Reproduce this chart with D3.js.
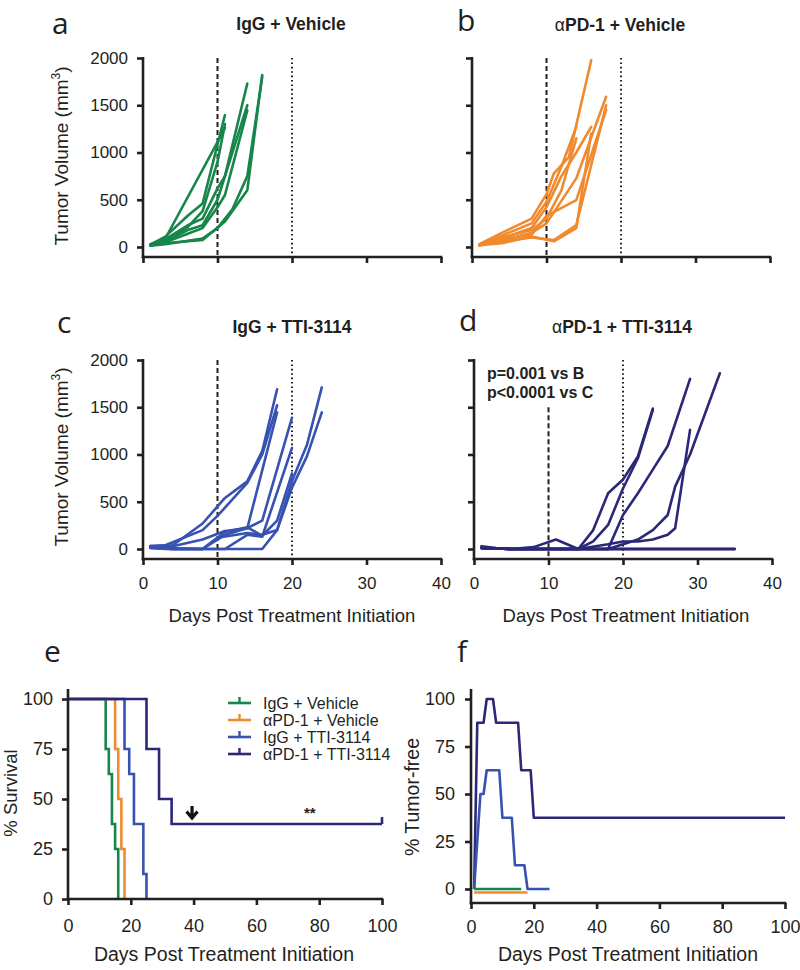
<!DOCTYPE html>
<html><head><meta charset="utf-8">
<script src="https://cdn.jsdelivr.net/npm/d3@7"></script>
<style>body{margin:0;background:#fff} svg{display:block}</style>
</head><body>
<svg id="chart" width="800" height="970"></svg>
<script>
// ---------- DATA ----------
const dayTicks = [0, 10, 20, 30, 40];
const volumeTicks = [0, 500, 1000, 1500, 2000];
const survDayTicks = [0, 20, 40, 60, 80, 100];
const percentTicks = [0, 25, 50, 75, 100];
const groupNames = ["IgG + Vehicle", "αPD-1 + Vehicle", "IgG + TTI-3114", "αPD-1 + TTI-3114"];
const xTitle = "Days Post Treatment Initiation";

// individual tumor growth curves: [day, volume mm3]
const miceIgGVehicle = [
  [[1,30],[3,90],[10,1110],[11,1260]],
  [[1,25],[3,110],[6,330],[8,460],[11,1395]],
  [[1,20],[3,80],[6,230],[8,300],[10,620],[11,750],[14,1730]],
  [[1,20],[3,60],[6,180],[8,230],[10,500],[14,1500]],
  [[1,15],[3,50],[6,140],[8,200],[10,420],[11,550],[14,1445]],
  [[1,20],[3,40],[8,75],[11,270],[14,600],[16,1820]],
  [[1,15],[3,30],[8,90],[10,200],[12,400],[14,750],[16,1800]],
  [[1,25],[3,70],[6,210],[8,380],[10,900],[11,1300]]
];
const miceAPD1Vehicle = [
  [[1,30],[4,150],[8,300],[10,560],[11,780],[13,950],[16,1977]],
  [[1,25],[4,120],[8,250],[10,480],[12,850],[14,1272]],
  [[1,20],[4,90],[8,200],[10,420],[12,750],[14,1000],[16,1272]],
  [[1,20],[4,70],[8,150],[10,250],[14,726],[18,1590]],
  [[1,15],[4,60],[8,100],[11,74],[14,232],[18,1500]],
  [[1,20],[4,80],[8,130],[10,330],[14,497],[18,1450]],
  [[1,25],[4,100],[8,180],[10,300],[12,600],[14,1150]],
  [[1,20],[4,40],[8,110],[11,60],[14,200],[16,1200]]
];
const miceIgGTTI = [
  [[1,30],[4,40],[8,270],[10,450],[11,540],[14,716],[16,1035],[18,1690]],
  [[1,25],[3,40],[8,200],[10,350],[14,700],[16,1000],[18,1520]],
  [[1,10],[4,0],[8,0],[11,150],[14,220],[18,1445]],
  [[1,30],[4,30],[8,100],[11,190],[14,220],[16,300],[20,1390]],
  [[1,20],[4,0],[11,0],[14,150],[16,130],[20,1070]],
  [[1,30],[3,10],[8,0],[10,120],[14,170],[16,150],[18,200],[20,720],[22,1100],[24,1710]],
  [[1,10],[4,0],[16,0],[18,200],[20,650],[22,980],[24,1445]],
  [[1,20],[3,0],[8,0],[11,180],[14,230],[16,140],[18,300],[20,800]]
];
const miceAPD1TTI = [
  [[1,30],[3,10],[5,0],[8,20],[11,100],[14,0],[16,200],[18,590],[20,735],[22,980],[24,1486]],
  [[1,10],[5,0],[14,0],[16,80],[18,255],[20,640],[22,960],[24,1470]],
  [[1,10],[5,0],[18,0],[20,360],[22,590],[24,840],[26,1090],[29,1800]],
  [[1,10],[5,0],[14,0],[18,50],[20,80],[22,80],[24,100],[26,150],[27,220],[29,1260]],
  [[1,10],[5,0],[18,0],[20,50],[22,100],[24,200],[26,360],[27,660],[29,1000],[33,1860]],
  [[1,10],[5,0],[35,0]],
  [[1,10],[5,0],[35,0]],
  [[1,10],[5,0],[35,0]]
];

// Kaplan-Meier survival: [day, % survival]
const survIgGVehicle = [[0,100],[12,75],[13,62.5],[14,37.5],[15,25],[16,0]];
const survAPD1Vehicle = [[0,100],[15,75],[16,50],[17,25],[18,0]];
const survIgGTTI = [[0,100],[18,75],[19.5,62.5],[21,37.5],[24,12.5],[25,0]];
const survAPD1TTI = [[0,100],[25,75],[29,50],[33,37.5],[100,37.5]];

// % tumor-free: [day, %]
const freeIgGVehicle = [[1,0],[16,0]];
const freeAPD1Vehicle = [[1,0],[18,0]];
const freeIgGTTI = [[1,0],[3,50],[4,50],[5,62.5],[9,62.5],[10,37.5],[13,37.5],[14,12.5],[17,12.5],[18,0],[25,0]];
const freeAPD1TTI = [[1,0],[2,87.5],[4,87.5],[5,100],[7,100],[8,87.5],[15,87.5],[16,62.5],[19,62.5],[20,37.5],[100,37.5]];

// ---------- STYLE ----------
const COLORS = ["#16864a", "#f08a2e", "#3752b0", "#2c2878"];
const FONT = "'Liberation Sans', Arial, Helvetica, sans-serif";
const INK = "#231f20";
const AXW = 2.6;

const svg = d3.select("#chart");

function styleAxis(g, fs) {
  g.selectAll(".tick line").attr("stroke", INK).attr("stroke-width", AXW);
  g.selectAll(".tick text").attr("fill", INK).attr("font-family", FONT).attr("font-size", fs);
}

function letter(t, x, y) {
  svg.append("text").attr("x", x).attr("y", y).text(t)
    .attr("font-family", "'Open Sans', 'DejaVu Sans', sans-serif").attr("font-size", 30).attr("fill", INK);
}

function title(t, x, y) {
  const tx = svg.append("text").attr("x", x).attr("y", y).attr("text-anchor", "middle")
    .attr("font-family", FONT).attr("font-size", 17.5).attr("font-weight", "bold").attr("fill", INK);
  if (t.startsWith("α")) {
    tx.append("tspan").attr("font-weight", "normal").text("α");
    tx.append("tspan").text(t.slice(1));
  } else tx.text(t);
}

function tumorPanel(o) {
  const g = svg.append("g");
  const x = d3.scaleLinear().domain([0, 40]).range([o.x0, o.x0 + 298]);
  const y = d3.scaleLinear().domain([0, 2000]).range([o.y0, o.y0 - 189]);
  g.append("line").attr("x1", x(10)).attr("x2", x(10)).attr("y1", y(o.dashTop)).attr("y2", o.axisY)
    .attr("stroke", INK).attr("stroke-width", 2).attr("stroke-dasharray", "5,3");
  g.append("line").attr("x1", x(20)).attr("x2", x(20)).attr("y1", y(2000)).attr("y2", o.axisY)
    .attr("stroke", INK).attr("stroke-width", 2).attr("stroke-dasharray", "1.6,2.8");
  const line = d3.line().x(d => x(d[0])).y(d => y(d[1]));
  g.selectAll("path.m").data(o.mice).join("path").attr("class", "m")
    .attr("d", line).attr("fill", "none").attr("stroke", o.color)
    .attr("stroke-width", 2.6).attr("stroke-linejoin", "round").attr("stroke-linecap", "round");
  const ya = d3.axisLeft(y).tickValues(volumeTicks).tickSize(6).tickSizeOuter(0).tickPadding(9)
    .tickFormat(o.yLabels ? d3.format("d") : () => "");
  const yg = g.append("g").attr("transform", `translate(${o.x0},0)`).call(ya);
  yg.select(".domain").remove();
  styleAxis(yg, 17);
  g.append("line").attr("x1", o.x0).attr("x2", o.x0).attr("y1", y(2000) - 1).attr("y2", o.axisY + 1.3)
    .attr("stroke", INK).attr("stroke-width", AXW);
  const xa = d3.axisBottom(x).tickValues(dayTicks).tickSize(6).tickSizeOuter(0).tickPadding(12)
    .tickFormat(o.xLabels ? d3.format("d") : () => "");
  const xg = g.append("g").attr("transform", `translate(0,${o.axisY})`).call(xa);
  xg.select(".domain").remove();
  styleAxis(xg, 17);
  g.append("line").attr("x1", o.x0 - 1.3).attr("x2", x(40) + 1.3).attr("y1", o.axisY).attr("y2", o.axisY)
    .attr("stroke", INK).attr("stroke-width", AXW);
}

function yTitleVolume(cx, cy) {
  const t = svg.append("text").attr("transform", `translate(${cx},${cy}) rotate(-90)`)
    .attr("text-anchor", "middle").attr("font-family", FONT).attr("font-size", 19).attr("fill", INK);
  t.append("tspan").text("Tumor Volume (mm");
  t.append("tspan").attr("font-size", 12).attr("dy", -8).text("3");
  t.append("tspan").attr("dy", 8).text(")");
}

function plainText(t, x, y, fs, rot) {
  svg.append("text").attr("transform", `translate(${x},${y})` + (rot ? " rotate(-90)" : ""))
    .attr("text-anchor", "middle").attr("font-family", FONT).attr("font-size", fs).attr("fill", INK).text(t);
}

// ---------- PANELS a-d ----------
tumorPanel({x0: 143, y0: 247, axisY: 257, mice: miceIgGVehicle, color: COLORS[0], yLabels: true, xLabels: false, dashTop: 2000});
tumorPanel({x0: 472, y0: 247, axisY: 257, mice: miceAPD1Vehicle, color: COLORS[1], yLabels: false, xLabels: false, dashTop: 2000});
tumorPanel({x0: 143, y0: 549, axisY: 559, mice: miceIgGTTI, color: COLORS[2], yLabels: true, xLabels: true, dashTop: 2000});
tumorPanel({x0: 474, y0: 549, axisY: 559, mice: miceAPD1TTI, color: COLORS[3], yLabels: false, xLabels: true, dashTop: 1500});

letter("a", 52, 34); letter("b", 457, 31); letter("c", 57, 333); letter("d", 459, 331);
title(groupNames[0], 291, 30); title(groupNames[1], 620, 31);
title(groupNames[2], 292, 333); title(groupNames[3], 622, 333);
yTitleVolume(68, 156); yTitleVolume(68, 457);
plainText(xTitle, 292, 622, 18.5); plainText(xTitle, 626, 622, 18.5);

svg.append("text").attr("x", 487).attr("y", 379).attr("font-family", FONT).attr("font-size", 16)
  .attr("font-weight", "bold").attr("fill", INK).text("p=0.001 vs B");
svg.append("text").attr("x", 487).attr("y", 398).attr("font-family", FONT).attr("font-size", 16)
  .attr("font-weight", "bold").attr("fill", INK).text("p<0.0001 vs C");

// ---------- PANEL e ----------
(function() {
  const g = svg.append("g");
  const x = d3.scaleLinear().domain([0, 100]).range([68, 382]);
  const y = d3.scaleLinear().domain([0, 100]).range([899, 699]);
  const line = d3.line().x(d => x(d[0])).y(d => y(d[1])).curve(d3.curveStepAfter);
  [survIgGVehicle, survAPD1Vehicle, survIgGTTI, survAPD1TTI].forEach((s, i) => {
    g.append("path").attr("d", line(s)).attr("fill", "none").attr("stroke", COLORS[i]).attr("stroke-width", 2.6);
  });
  const last = survAPD1TTI[survAPD1TTI.length - 1];
  g.append("line").attr("x1", x(last[0])).attr("x2", x(last[0])).attr("y1", y(last[1])).attr("y2", y(last[1]) - 7)
    .attr("stroke", COLORS[3]).attr("stroke-width", 2.6);
  const ya = d3.axisLeft(y).tickValues(percentTicks).tickSize(6).tickSizeOuter(0).tickPadding(9);
  const yg = g.append("g").attr("transform", "translate(68,0)").call(ya);
  yg.select(".domain").remove(); styleAxis(yg, 18);
  g.append("line").attr("x1", 68).attr("x2", 68).attr("y1", 689).attr("y2", 900.3).attr("stroke", INK).attr("stroke-width", AXW);
  const xa = d3.axisBottom(x).tickValues(survDayTicks).tickSize(6).tickSizeOuter(0).tickPadding(14);
  const xg = g.append("g").attr("transform", "translate(0,899)").call(xa);
  xg.select(".domain").remove(); styleAxis(xg, 18);
  g.append("line").attr("x1", 66.7).attr("x2", 383.3).attr("y1", 899).attr("y2", 899).attr("stroke", INK).attr("stroke-width", AXW);
  groupNames.forEach((n, i) => {
    const ly = 703 + i * 17;
    g.append("line").attr("x1", 228).attr("x2", 251).attr("y1", ly).attr("y2", ly).attr("stroke", COLORS[i]).attr("stroke-width", 2.6);
    g.append("line").attr("x1", 239.5).attr("x2", 239.5).attr("y1", ly).attr("y2", ly - 6).attr("stroke", COLORS[i]).attr("stroke-width", 2.4);
    g.append("text").attr("x", 263).attr("y", ly + 5.5).attr("font-family", FONT).attr("font-size", 16).attr("fill", INK).text(n);
  });
  const ax = x(39.5);
  g.append("path").attr("d", `M${ax},806 L${ax},817 M${ax - 5.5},811.5 L${ax},818 L${ax + 5.5},811.5`)
    .attr("fill", "none").attr("stroke", "#111").attr("stroke-width", 3.2).attr("stroke-linejoin", "miter");
  g.append("text").attr("x", x(77)).attr("y", 818).attr("text-anchor", "middle").attr("font-family", FONT)
    .attr("font-size", 15).attr("font-weight", "bold").attr("fill", INK).text("**");
})();
letter("e", 44, 662);
plainText("% Survival", 17, 793, 18.5, true);
plainText(xTitle, 224, 961, 19.5);

// ---------- PANEL f ----------
(function() {
  const g = svg.append("g");
  const x = d3.scaleLinear().domain([0, 100]).range([471, 785]);
  const y = d3.scaleLinear().domain([0, 100]).range([889, 699]);
  const line = d3.line().x(d => x(d[0])).y(d => y(d[1]));
  const series = [freeIgGVehicle, freeAPD1Vehicle, freeIgGTTI, freeAPD1TTI];
  const offsets = [0, 3.5, 0, 0];
  [3, 2, 0, 1].forEach(i => {
    g.append("path").attr("d", line(series[i])).attr("transform", `translate(0,${offsets[i]})`)
      .attr("fill", "none").attr("stroke", COLORS[i]).attr("stroke-width", 2.6).attr("stroke-linejoin", "round");
  });
  const ya = d3.axisLeft(y).tickValues(percentTicks).tickSize(6).tickSizeOuter(0).tickPadding(10);
  const yg = g.append("g").attr("transform", "translate(471,0)").call(ya);
  yg.select(".domain").remove(); styleAxis(yg, 18);
  g.append("line").attr("x1", 471).attr("x2", 471).attr("y1", 689).attr("y2", 904.3).attr("stroke", INK).attr("stroke-width", AXW);
  const xa = d3.axisBottom(x).tickValues(survDayTicks).tickSize(6).tickSizeOuter(0).tickPadding(11);
  const xg = g.append("g").attr("transform", "translate(0,903)").call(xa);
  xg.select(".domain").remove(); styleAxis(xg, 18);
  g.append("line").attr("x1", 469.7).attr("x2", 786.3).attr("y1", 903).attr("y2", 903).attr("stroke", INK).attr("stroke-width", AXW);
})();
letter("f", 457, 662);
plainText("% Tumor-free", 419, 797, 19.5, true);
plainText(xTitle, 628, 961, 19.5);
</script>
</body></html>
